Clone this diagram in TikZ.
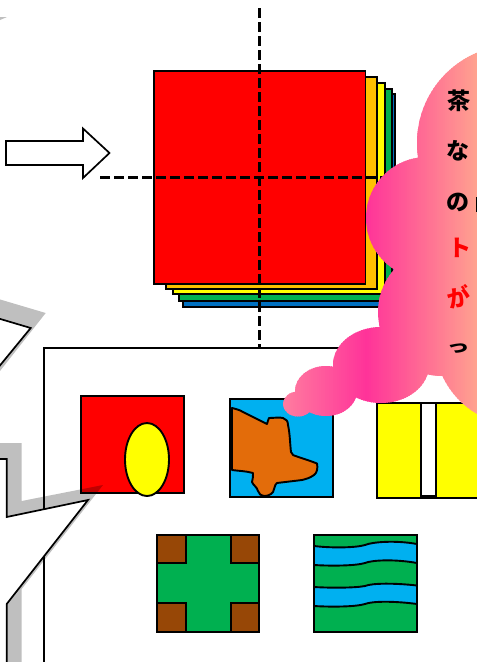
\documentclass[tikz,border=0pt]{standalone}
\usepackage{fontspec}
\newfontfamily\jpfont{Noto Sans CJK JP}
\definecolor{pureyellow}{HTML}{FFFF00}
\definecolor{purered}{HTML}{FF0000}
\definecolor{stackorange}{HTML}{FFC000}
\definecolor{stackgreen}{HTML}{00B050}
\definecolor{stackblue}{HTML}{0070C0}
\definecolor{skyblue}{HTML}{00B0F0}
\definecolor{landorange}{HTML}{E36C0A}
\definecolor{landbrown}{HTML}{974706}
\definecolor{cloudleft}{HTML}{FF7A9F}
\definecolor{cloudmid}{HTML}{FF3399}
\definecolor{cloudright}{HTML}{FFA38F}
\tikzset{
  outline/.style={draw=black,line width=1.9pt,line join=miter},
  thinline/.style={draw=black,line width=1.7pt},
  guide/.style={draw=black,line width=2.2pt,dash pattern=on 10pt off 4pt},
  chartext/.style={font=\jpfont\bfseries\fontsize{23}{23}\selectfont,inner sep=0pt,anchor=center},
}
\begin{document}
\begin{tikzpicture}[x=1pt,y=-1pt]
\useasboundingbox (0,0) rectangle (477,662);
% stacked sheets
\path[outline,fill=stackblue] (183,94) rectangle (395,307);
\path[outline,fill=stackgreen] (179,89) rectangle (392,301);
\path[outline,fill=pureyellow] (173,83) rectangle (385,294);
\path[outline,fill=stackorange] (166,77) rectangle (377,289);
\path[outline,fill=purered] (154,71) rectangle (365.5,284);
\draw[guide] (100,177.5) -- (385,177.5);
\draw[guide] (259.5,8) -- (259.5,347);
% block arrow
\path[thinline,fill=white] (6,141) -- (83,141) -- (83,128.5) -- (109.5,153) -- (83,178) -- (83,165) -- (6,165) -- cycle;
% frame
\path[thinline] (500,348) -- (44,348) -- (44,700);
% red square with ellipse
\path[outline,fill=purered] (81,396) rectangle (184,493);
\path[outline,fill=pureyellow] (147,459.5) ellipse [x radius=22,y radius=36.5];
% blue square with land
\path[outline,fill=skyblue] (230,399) rectangle (333,497);
\path[outline,fill=landorange,line join=round] (232,408)
  .. controls (236,409) and (240,410) .. (243,412)
  -- (267,424)
  .. controls (268,422) and (268,419) .. (269,418)
  .. controls (274,418) and (279,417) .. (283,418)
  .. controls (286,419) and (288,421) .. (288,425)
  .. controls (290,434) and (290,444) .. (291,452)
  .. controls (292,455) and (294,456) .. (297,456.5)
  .. controls (304,459) and (311,461) .. (317,463.5)
  .. controls (318,468) and (317,473) .. (314,475)
  .. controls (310,478) and (306,479) .. (302,480)
  .. controls (294,481) and (285,482) .. (277,483)
  .. controls (274,485) and (275,489) .. (273,492)
  .. controls (271,495) and (267,496) .. (264,496)
  .. controls (261,496) and (259,494) .. (258,491)
  .. controls (257,487) and (253,485) .. (252,482)
  .. controls (252,479) and (254,476) .. (253,473)
  .. controls (246,471) and (239,471) .. (232,470)
  -- cycle;
% yellow square with slot
\path[outline,fill=pureyellow] (377,403) rectangle (500,498);
\path[outline,fill=white] (421,403) rectangle (436,496);
% green cross
\path[outline,fill=stackgreen] (157,535) rectangle (259,632);
\path[outline,fill=landbrown] (157,535) rectangle (186,563);
\path[outline,fill=landbrown] (231,535) rectangle (259,563);
\path[outline,fill=landbrown] (157,603) rectangle (186,632);
\path[outline,fill=landbrown] (231,603) rectangle (259,632);
% green square with streams
\path[outline,fill=stackgreen] (314,535) rectangle (417,632);
\path[outline,fill=skyblue] (314,546)
  .. controls (330,548) and (355,548) .. (365,545)
  .. controls (372,542) and (395,540) .. (417,544)
  -- (417,563)
  .. controls (395,559) and (372,560) .. (365,563)
  .. controls (355,566) and (330,566) .. (314,565)
  -- cycle;
\path[outline,fill=skyblue] (314,587)
  .. controls (330,588) and (355,588) .. (365,586)
  .. controls (372,583) and (395,583) .. (417,585.5)
  -- (417,604)
  .. controls (395,601) and (372,601) .. (365,604)
  .. controls (355,607) and (330,607) .. (314,606)
  -- cycle;
% star with shadow
\fill[black,opacity=.25] (-15,295) -- (45.7,313) -- (-15,390) -- (-15,443) -- (21.7,443) -- (21.7,501) -- (103,485) -- (21.7,589) -- (21.7,700) -- (-15,700) -- cycle;
\path[thinline,fill=white] (-30,310) -- (30.7,328) -- (-30,402) -- (-30,459) -- (6.7,459) -- (6.7,517) -- (88,500) -- (6.7,604) -- (6.7,700) -- (-30,700) -- cycle;
\fill[black,opacity=.25] (0,17) -- (7,17) -- (0,20) -- cycle;
% cloud
\begin{scope}
\clip (515,143) circle (98)
  (427,218) circle (61)
  (442,312) circle (64)
  (520,340) circle (85.5)
  (381,365) ellipse [x radius=48,y radius=38]
  (326,391) ellipse [x radius=31,y radius=25]
  (298,404) ellipse [x radius=15,y radius=12.5]
  (445,100) -- (500,100) -- (500,370) -- (445,370) -- cycle;
\foreach \px in {281,283,...,363} {
  \pgfmathtruncatemacro{\mixval}{max(0,min(100,(\px-285)*100/80))}
  \fill[cloudmid!\mixval!cloudleft] (\px,0) rectangle (\px+3,662);
}
\foreach \px in {365,367,...,477} {
  \pgfmathtruncatemacro{\mixval}{(\px-365)*100/112}
  \fill[cloudright!\mixval!cloudmid] (\px,0) rectangle (\px+3,662);
}
\end{scope}
% text
\node[chartext] (c1) at (459,101) {茶};
\node[chartext] (c2) at (458,151) {な};
\node[chartext] (c3) at (458,202) {の};
\node[chartext,text=purered] (c4) at (460,248) {ト};
\node[chartext,text=purered,rotate=12] (c5) at (459,297) {が};
\node[chartext,yscale=.7,transform shape] (c6) at (458,349) {っ};
\draw[black,line width=2pt] (476.5,197) -- (476.5,212);
\end{tikzpicture}
\end{document}
